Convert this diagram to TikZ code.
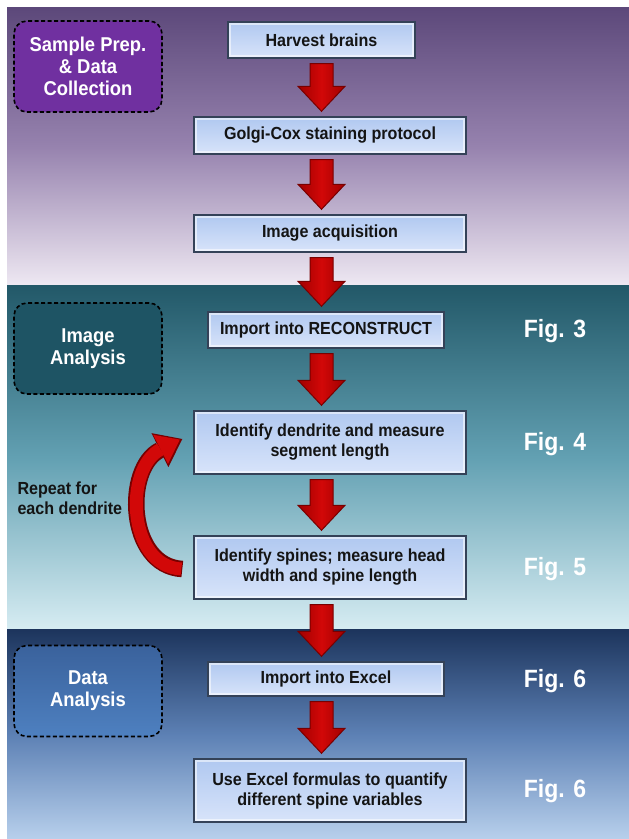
\documentclass[tikz,border=0pt]{standalone}
\usepackage{fontspec}
\setmainfont{Liberation Sans}[FakeStretch=0.92]
\usetikzlibrary{arrows.meta,calc}
\definecolor{boxline}{RGB}{52,66,88}
\definecolor{boxtop}{RGB}{176,200,240}
\definecolor{boxbot}{RGB}{216,228,250}
\definecolor{arrowdark}{RGB}{120,0,0}
\definecolor{arrowred}{RGB}{210,8,8}
\definecolor{arrowedge}{RGB}{160,0,0}
\definecolor{prepfill}{RGB}{112,48,160}
\definecolor{imgfill}{RGB}{30,84,100}
\definecolor{datatop}{RGB}{58,98,156}
\definecolor{databot}{RGB}{78,128,192}
\tikzset{%
  stepbox/.style  = {shape=rectangle, draw=boxline, line width=1.4pt,%
                     top color=boxtop, bottom color=boxbot,%
                     align=center, inner sep=0pt, text=black!92,%
                     font=\fontsize{17.5}{20}\selectfont\bfseries,%
                     path picture={\draw[white, line width=1.4pt, opacity=.55]%
                       ($(path picture bounding box.south west)+(2pt,2pt)$) rectangle%
                       ($(path picture bounding box.north east)+(-2pt,-2pt)$);}},%
  phase/.style    = {shape=rectangle, rounded corners=13pt, draw=black,%
                     line width=1.6pt, dash pattern=on 4pt off 2.5pt,%
                     minimum width=148pt, minimum height=91pt, align=center,%
                     text=white, font=\fontsize{20}{22}\selectfont\bfseries},%
  figlab/.style   = {font=\fontsize{25}{25}\selectfont\bfseries, text=white},%
  flowarrow/.style= {draw=arrowdark, line width=1pt, line join=miter,%
                     left color=arrowedge, right color=arrowedge, middle color=arrowred}%
}
% block arrow between two boxes, on the column ax
\newcommand\blockdown[2]{%
  \path (#1.south -| ax) ++(0,5) coordinate (arrs) (#2.north -| ax) ++(0,-5) coordinate (arrt);
  \draw[flowarrow] ($(arrs)+(-11.5,0)$) -- ($(arrs)+(11.5,0)$) -- ($(arrt)+(11.5,-25)$)%
    -- ($(arrt)+(23.5,-25)$) -- (arrt) -- ($(arrt)+(-23.5,-25)$) -- ($(arrt)+(-11.5,-25)$) -- cycle;%
}
\begin{document}
\begin{tikzpicture}[x=1pt, y=-1pt]
	\useasboundingbox (0,0) rectangle (629,839);
	\fill[white] (0,0) rectangle (629,839);
	% background bands
	\shade[top color={rgb,255:red,92;green,72;blue,122}, bottom color={rgb,255:red,238;green,232;blue,242},%
		middle color={rgb,255:red,150;green,130;blue,174}] (7,7) rectangle (629,285);
	\shade[top color={rgb,255:red,34;green,88;blue,104}, bottom color={rgb,255:red,214;green,236;blue,242},%
		middle color={rgb,255:red,98;green,160;blue,178}] (7,285) rectangle (629,629);
	\shade[top color={rgb,255:red,28;green,52;blue,92}, bottom color={rgb,255:red,184;green,208;blue,236},%
		middle color={rgb,255:red,92;green,128;blue,180}] (7,629) rectangle (629,839);

	\coordinate (ax) at (321.5,0);

	\node[phase, fill=prepfill] (prep) at (88,66.5) {Sample Prep.\\\& Data\\Collection};
	\node[phase, fill=imgfill] (imgan) at (88,348.5) {Image\\Analysis};
	\node[phase, top color=datatop, bottom color=databot] (datan) at (88,691) {Data\\Analysis};

	\node[stepbox, minimum width=187pt, minimum height=36pt] (hb) at (321.5,40) {Harvest brains};
	\node[stepbox, minimum width=272pt, minimum height=37pt] (gc) at (330,135.5) {Golgi-Cox staining protocol};
	\node[stepbox, minimum width=272pt, minimum height=37pt] (ia) at (330,233.5) {Image acquisition};
	\node[stepbox, minimum width=236pt, minimum height=36pt] (rc) at (326,330) {Import into RECONSTRUCT};
	\node[stepbox, minimum width=272pt, minimum height=63pt] (dd) at (330,442.5) {Identify dendrite and measure\\segment length};
	\node[stepbox, minimum width=272pt, minimum height=63pt] (sp) at (330,567.5) {Identify spines; measure head\\width and spine length};
	\node[stepbox, minimum width=236pt, minimum height=34pt] (ex) at (326,679) {Import into Excel};
	\node[stepbox, minimum width=272pt, minimum height=63pt] (uf) at (330,790.5) {Use Excel formulas to quantify\\different spine variables};

	\blockdown{hb}{gc}
	\blockdown{gc}{ia}
	\blockdown{ia}{rc}
	\blockdown{rc}{dd}
	\blockdown{dd}{sp}
	\blockdown{sp}{ex}
	\blockdown{ex}{uf}

	% loop back
	\draw[arrowdark, line width=16.5pt, -{Triangle[length=25pt,width=38pt,line width=0pt]}]%
		($(sp.west)+(-11,1.5)$) .. controls (127,566) and (124,468) .. ($(dd.west)+(-11,-3.5)$);
	\draw[arrowred, line width=13pt, -{Triangle[length=21.5pt,width=32.5pt,line width=0pt]}]%
		($(sp.west)+(-12,1.5)$) .. controls (127,566) and (124,468) .. ($(dd.west)+(-13.5,-2.9)$);
	\node[anchor=west, align=left, text=black!92, font=\fontsize{17.5}{20}\selectfont\bfseries] (rep) at (14,498)%
		{Repeat for\\each dendrite};

	\foreach \nm/\yy/\lab in {f3/331/3, f4/444/4, f5/569/5, f6a/681/6, f6b/791/6}{
		\node[figlab] (\nm) at (555,\yy) {Fig. \lab};
	}
\end{tikzpicture}
\end{document}
